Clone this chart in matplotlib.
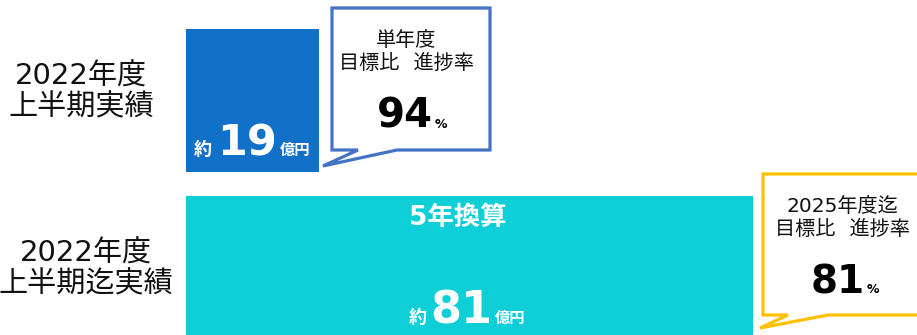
import matplotlib.pyplot as plt
from matplotlib.patches import Polygon

plt.rcParams['font.family'] = ['Noto Sans CJK JP', 'DejaVu Sans']
# Latin digits in a wide Verdana-like face, kanji falls back to Noto
MIXED = ['DejaVu Sans', 'Noto Sans CJK JP']

# results per period (100 million yen) and progress vs target (%)
row_labels = ["2022年度\n上半期実績", "2022年度\n上半期迄実績"]
amounts = [19, 81]
bar_colors = ["#1170C8", "#0ECFD8"]
bar_titles = ["", "5年換算"]
progress = [94, 81]
progress_titles = ["単年度\n目標比\u2002\u2009進捗率", "2025年度迄\n目標比\u2002\u2009進捗率"]
callout_colors = ["#4472C4", "#FFC000"]

W, H = 917, 335
fig = plt.figure(figsize=(W / 100, H / 100), dpi=100)

# pixel-space axes for labels and callouts
ax = fig.add_axes([0, 0, 1, 1])
ax.set_xlim(0, W)
ax.set_ylim(H, 0)
ax.axis('off')

# value axes for the bars (about 7 px per unit)
x0 = 186
bx = fig.add_axes([x0 / W, 0, (W - x0) / W, 1])
bx.set_xlim(0, (W - x0) / 7.0)
bx.set_ylim(H, 0)
bx.axis('off')

bar_y = [100.5, 266.5]
bar_h = [143, 141]
bx.barh(bar_y, amounts, height=bar_h, left=0, color=bar_colors, zorder=1)

# row labels on the left
label_x = [81, 86]
label_y = [92, 269]
for lab, x, y in zip(row_labels, label_x, label_y):
    ax.text(x, y, lab, ha='center', va='center', fontsize=21, family=MIXED,
            linespacing=1.12, color='#111111')

# amount labels inside the bars: 約 NN 億円
num_dx = [-5, -8.5]
num_dy = [-54.5, -56.5]
num_size = [31, 32]
yaku_dx = [-40.5, -42.5]
oku_dx = [27.5, 25.5]
for i, v in enumerate(amounts):
    xy = (v / 2, bar_y[i])
    kw = dict(xy=xy, xycoords='data', textcoords='offset pixels',
              color='white', fontweight='bold', va='baseline')
    bx.annotate(str(v), xytext=(num_dx[i], num_dy[i]), ha='center',
                fontsize=num_size[i], family='DejaVu Sans', **kw)
    bx.annotate("約", xytext=(yaku_dx[i], num_dy[i]), ha='right',
                fontsize=13, **kw)
    bx.annotate("億円", xytext=(oku_dx[i], num_dy[i]), ha='left',
                fontsize=11, **kw)
    if bar_titles[i]:
        bx.annotate(bar_titles[i], xy=xy, xycoords='data',
                    xytext=(-11.5, 48.5), textcoords='offset pixels',
                    ha='center', va='center', color='white', family=MIXED,
                    fontweight='bold', fontsize=19)

# speech-bubble callouts
bubbles = [
    [(332, 8), (490, 8), (490, 150), (397, 150), (323, 166), (358, 150), (332, 150)],
    [(763, 174), (925, 174), (925, 315), (828, 315), (760, 328), (788, 315), (763, 315)],
]
for pts, c in zip(bubbles, callout_colors):
    ax.add_patch(Polygon(pts, closed=True, facecolor='white', edgecolor=c,
                         linewidth=2.3, joinstyle='miter', zorder=2))

title_xy = [(406, 52), (842, 218)]
pct_xy = [(433, 128), (865, 293)]
pct_size = [29, 28]
for i, p in enumerate(progress):
    tx, ty = title_xy[i]
    ax.text(tx, ty, progress_titles[i], ha='center', va='center', fontsize=14.5,
            family=MIXED, linespacing=1.3, color='#111111', zorder=3)
    px, py = pct_xy[i]
    ax.text(px, py, str(p), ha='right', va='baseline', fontsize=pct_size[i],
            fontweight='bold', family='DejaVu Sans', color='black', zorder=3)
    ax.text(px + 2, py, "%", ha='left', va='baseline', fontsize=9,
            fontweight='bold', family='DejaVu Sans', color='black', zorder=3)

fig.savefig("out.png", dpi=100, facecolor='white')
